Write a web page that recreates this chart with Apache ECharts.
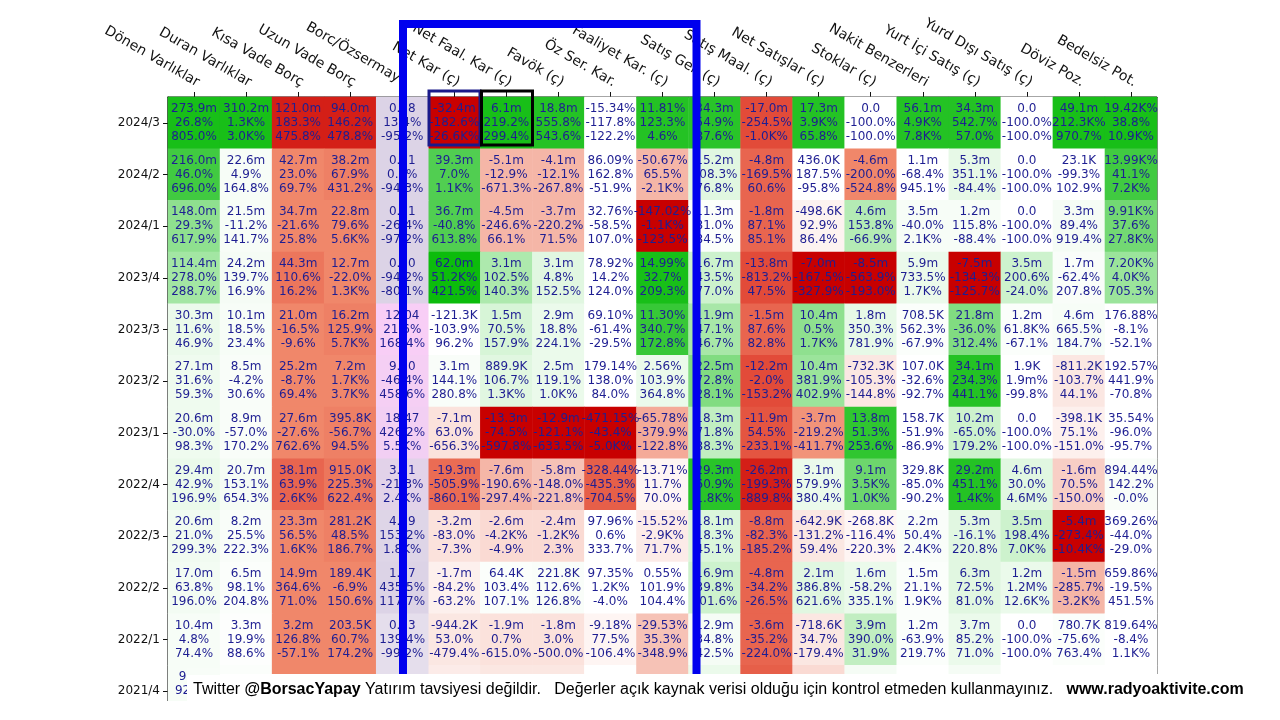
<!DOCTYPE html>
<html><head><meta charset="utf-8">
<script src="https://cdn.jsdelivr.net/npm/echarts@6/dist/echarts.min.js"></script>
<style>html,body{margin:0;padding:0;background:#fff}#c{width:1280px;height:720px}</style>
</head><body><div id="c"></div>
<script>
const periods = ['2024/3','2024/2','2024/1','2023/4','2023/3','2023/2','2023/1','2022/4','2022/3','2022/2','2022/1','2021/4'];
const metrics = ['Dönen Varlıklar','Duran Varlıklar','Kısa Vade Borç','Uzun Vade Borç','Borc/Özsermaye','Net Kar (ç)','Net Faal. Kar (ç)','Favök (ç)','Öz Ser. Kar.','Faaliyet Kar. (ç)','Satış Gel. (ç)','Satış Maal. (ç)','Net Satışlar (ç)','Stoklar (ç)','Nakit Benzerleri','Yurt İçi Satış (ç)','Yurd Dışı Satış (ç)','Döviz Poz.','Bedelsiz Pot.'];

// first line of each cell: value
const line1 = [
 ['273.9m','310.2m','121.0m','94.0m','0.28','-32.4m','6.1m','18.8m','-15.34%','11.81%','34.3m','-17.0m','17.3m','0.0','56.1m','34.3m','0.0','49.1m','19.42K%'],
 ['216.0m','22.6m','42.7m','38.2m','0.31','39.3m','-5.1m','-4.1m','86.09%','-50.67%','15.2m','-4.8m','436.0K','-4.6m','1.1m','5.3m','0.0','23.1K','13.99K%'],
 ['148.0m','21.5m','34.7m','22.8m','0.21','36.7m','-4.5m','-3.7m','32.76%','-147.02%','11.3m','-1.8m','-498.6K','4.6m','3.5m','1.2m','0.0','3.3m','9.91K%'],
 ['114.4m','24.2m','44.3m','12.7m','0.30','62.0m','3.1m','3.1m','78.92%','14.99%','16.7m','-13.8m','-7.0m','-8.5m','5.9m','-7.5m','3.5m','1.7m','7.20K%'],
 ['30.3m','10.1m','21.0m','16.2m','12.04','-121.3K','1.5m','2.9m','69.10%','11.30%','11.9m','-1.5m','10.4m','1.8m','708.5K','21.8m','1.2m','4.6m','176.88%'],
 ['27.1m','8.5m','25.2m','7.2m','9.50','3.1m','889.9K','2.5m','179.14%','2.56%','22.5m','-12.2m','10.4m','-732.3K','107.0K','34.1m','1.9K','-811.2K','192.57%'],
 ['20.6m','8.9m','27.6m','395.8K','18.47','-7.1m','-13.3m','-12.9m','-471.15%','-65.78%','18.3m','-11.9m','-3.7m','13.8m','158.7K','10.2m','0.0','-398.1K','35.54%'],
 ['29.4m','20.7m','38.1m','915.0K','3.21','-19.3m','-7.6m','-5.8m','-328.44%','-13.71%','29.3m','-26.2m','3.1m','9.1m','329.8K','29.2m','4.6m','-1.6m','894.44%'],
 ['20.6m','8.2m','23.3m','281.2K','4.19','-3.2m','-2.6m','-2.4m','97.96%','-15.52%','18.1m','-8.8m','-642.9K','-268.8K','2.2m','5.3m','3.5m','-5.4m','369.26%'],
 ['17.0m','6.5m','14.9m','189.4K','1.27','-1.7m','64.4K','221.8K','97.35%','0.55%','16.9m','-4.8m','2.1m','1.6m','1.5m','6.3m','1.2m','-1.5m','659.86%'],
 ['10.4m','3.3m','3.2m','203.5K','0.33','-944.2K','-1.9m','-1.8m','-9.18%','-29.53%','12.9m','-3.6m','-718.6K','3.9m','1.2m','3.7m','0.0','780.7K','819.64%'],
 ['9.6m','','','','','','','','','','','','','','','','','','']
];
// second line: quarterly change
const line2 = [
 ['26.8%','1.3K%','183.3%','146.2%','13.4%','-182.6%','219.2%','555.8%','-117.8%','123.3%','54.9%','-254.5%','3.9K%','-100.0%','4.9K%','542.7%','-100.0%','212.3K%','38.8%'],
 ['46.0%','4.9%','23.0%','67.9%','0.7%','7.0%','-12.9%','-12.1%','162.8%','65.5%','108.3%','-169.5%','187.5%','-200.0%','-68.4%','351.1%','-100.0%','-99.3%','41.1%'],
 ['29.3%','-11.2%','-21.6%','79.6%','-26.4%','-40.8%','-246.6%','-220.2%','-58.5%','-1.1K%','81.0%','87.1%','92.9%','153.8%','-40.0%','115.8%','-100.0%','89.4%','37.6%'],
 ['278.0%','139.7%','110.6%','-22.0%','-94.2%','51.2K%','102.5%','4.8%','14.2%','32.7%','43.5%','-813.2%','-167.5%','-563.9%','733.5%','-134.3%','200.6%','-62.4%','4.0K%'],
 ['11.6%','18.5%','-16.5%','125.9%','21.6%','-103.9%','70.5%','18.8%','-61.4%','340.7%','47.1%','87.6%','0.5%','350.3%','562.3%','-36.0%','61.8K%','665.5%','-8.1%'],
 ['31.6%','-4.2%','-8.7%','1.7K%','-46.4%','144.1%','106.7%','119.1%','138.0%','103.9%','72.8%','-2.0%','381.9%','-105.3%','-32.6%','234.3%','1.9m%','-103.7%','441.9%'],
 ['-30.0%','-57.0%','-27.6%','-56.7%','426.2%','63.0%','-74.5%','-121.1%','-43.4%','-379.9%','71.8%','54.5%','-219.2%','51.3%','-51.9%','-65.0%','-100.0%','75.1%','-96.0%'],
 ['42.9%','153.1%','63.9%','225.3%','-21.3%','-505.9%','-190.6%','-148.0%','-435.3%','11.7%','60.9%','-199.3%','579.9%','3.5K%','-85.0%','451.1%','30.0%','70.5%','142.2%'],
 ['21.0%','25.5%','56.5%','48.5%','153.2%','-83.0%','-4.2K%','-1.2K%','0.6%','-2.9K%','18.3%','-82.3%','-131.2%','-116.4%','50.4%','-16.1%','198.4%','-273.4%','-44.0%'],
 ['63.8%','98.1%','364.6%','-6.9%','435.5%','-84.2%','103.4%','112.6%','1.2K%','101.9%','39.8%','-34.2%','386.8%','-58.2%','21.1%','72.5%','1.2M%','-285.7%','-19.5%'],
 ['4.8%','19.9%','126.8%','60.7%','139.4%','53.0%','0.7%','3.0%','77.5%','35.3%','34.8%','-35.2%','34.7%','390.0%','-63.9%','85.2%','-100.0%','-75.6%','-8.4%'],
 ['92.4%','','','','','','','','','','','','','','','','','','']
];
// third line: yearly change
const line3 = [
 ['805.0%','3.0K%','475.8%','478.8%','-95.2%','-26.6K%','299.4%','543.6%','-122.2%','4.6%','87.6%','-1.0K%','65.8%','-100.0%','7.8K%','57.0%','-100.0%','970.7%','10.9K%'],
 ['696.0%','164.8%','69.7%','431.2%','-94.3%','1.1K%','-671.3%','-267.8%','-51.9%','-2.1K%','76.8%','60.6%','-95.8%','-524.8%','945.1%','-84.4%','-100.0%','102.9%','7.2K%'],
 ['617.9%','141.7%','25.8%','5.6K%','-97.2%','613.8%','66.1%','71.5%','107.0%','-123.5%','84.5%','85.1%','86.4%','-66.9%','2.1K%','-88.4%','-100.0%','919.4%','27.8K%'],
 ['288.7%','16.9%','16.2%','1.3K%','-80.1%','421.5%','140.3%','152.5%','124.0%','209.3%','77.0%','47.5%','-327.9%','-193.0%','1.7K%','-125.7%','-24.0%','207.8%','705.3%'],
 ['46.9%','23.4%','-9.6%','5.7K%','168.4%','96.2%','157.9%','224.1%','-29.5%','172.8%','46.7%','82.8%','1.7K%','781.9%','-67.9%','312.4%','-67.1%','184.7%','-52.1%'],
 ['59.3%','30.6%','69.4%','3.7K%','458.6%','280.8%','1.3K%','1.0K%','84.0%','364.8%','28.1%','-153.2%','402.9%','-144.8%','-92.7%','441.1%','-99.8%','44.1%','-70.8%'],
 ['98.3%','170.2%','762.6%','94.5%','5.5K%','-656.3%','-597.8%','-633.5%','-5.0K%','-122.8%','88.3%','-233.1%','-411.7%','253.6%','-86.9%','179.2%','-100.0%','-151.0%','-95.7%'],
 ['196.9%','654.3%','2.6K%','622.4%','2.4K%','-860.1%','-297.4%','-221.8%','-704.5%','70.0%','1.8K%','-889.8%','380.4%','1.0K%','-90.2%','1.4K%','4.6M%','-150.0%','-0.0%'],
 ['299.3%','222.3%','1.6K%','186.7%','1.8K%','-7.3%','-4.9%','2.3%','333.7%','71.7%','45.1%','-185.2%','59.4%','-220.3%','2.4K%','220.8%','7.0K%','-10.4K%','-29.0%'],
 ['196.0%','204.8%','71.0%','150.6%','117.7%','-63.2%','107.1%','126.8%','-4.0%','104.4%','101.6%','-26.5%','621.6%','335.1%','1.9K%','81.0%','12.6K%','-3.2K%','451.5%'],
 ['74.4%','88.6%','-57.1%','174.2%','-99.2%','-479.4%','-615.0%','-500.0%','-106.4%','-348.9%','42.5%','-224.0%','-179.4%','31.9%','219.7%','71.0%','-100.0%','763.4%','1.1K%'],
 [' ','','','','','','','','','','','','','','','','','','']
];
// colour level of each cell (-1 red .. 0 white .. 1 green; column 5 uses its own lavender-pink scale 0..1)
const heat = [
 [0.95,0.95,-0.85,-0.85,0.5,-1,0.95,0.9,0,0.9,0.88,-0.68,0.9,0,0.9,0.9,0,0.95,0.95],
 [0.78,0.04,-0.5,-0.52,0.5,0.72,-0.3,-0.3,0,-0.3,0.15,-0.6,0,-0.5,0,0.12,0,0,0.78],
 [0.5,0.04,-0.5,-0.5,0.5,0.72,-0.3,-0.3,0,-1,0.02,-0.6,-0.05,0.35,0.04,0.04,0,0.05,0.6],
 [0.42,0.05,-0.55,-0.5,0.5,1,0.38,0.15,0,0.95,0.25,-0.68,-1,-1,0.1,-1,0.25,0.03,0.45],
 [0.1,0.04,-0.5,-0.52,1,0,0.2,0.1,0,0.82,0.4,-0.6,0.5,0.12,0.02,0.55,0.02,0.04,0],
 [0.08,0.03,-0.5,-0.5,0.95,0.03,0.15,0.1,0,0.1,0.55,-0.68,0.45,-0.1,0,0.9,0,-0.1,0],
 [0.08,0.03,-0.5,-0.52,0.9,-0.12,-1,-1,-1,-0.35,0.3,-0.65,-0.45,0.85,0,0.25,0,-0.06,0],
 [0.1,0.05,-0.6,-0.55,0.6,-0.58,-0.3,-0.25,-0.62,-0.04,0.88,-0.85,0.1,0.62,0,0.9,0.15,-0.2,0.03],
 [0.07,0.03,-0.5,-0.52,0.45,-0.12,-0.15,-0.15,0,-0.08,0.18,-0.6,-0.1,-0.04,0.03,0.15,0.25,-1,0],
 [0.06,0.02,-0.5,-0.5,0.5,-0.06,0.02,0.03,0,0,0.25,-0.6,0.15,0.1,0.02,0.15,0.1,-0.3,0],
 [0.04,0.01,-0.5,-0.5,0.2,-0.1,-0.12,-0.12,-0.04,-0.25,0.05,-0.6,-0.1,0.3,0.02,0.1,0,0.02,0],
 [0.04,0.02,-0.5,-0.5,0.2,-0.08,-0.1,-0.1,0,-0.25,0.1,-0.62,-0.15,0.05,0,0.05,0,0,0]
];
const ratioCol = 4;

const mainData = [], ratioData = [];
periods.forEach((p, r) => {
  metrics.forEach((m, c) => {
    const item = [c, r, heat[r][c]];
    (c === ratioCol ? ratioData : mainData).push(item);
  });
});

function cellText(p) {
  const c = p.value[0], r = p.value[1];
  const a = line1[r][c], b = line2[r][c], d = line3[r][c];
  if (!a && !b && !d) return '';
  return a + '\n' + b + '\n' + d;
}

const labelStyle = {
  show: true, formatter: cellText, fontFamily: 'DejaVu Sans', fontSize: 12,
  lineHeight: 14, color: '#1e1e92'
};

const chart = echarts.init(document.getElementById('c'), null, {renderer: 'canvas'});
chart.setOption({
  animation: false,
  backgroundColor: '#ffffff',
  grid: {left: 168, top: 97, width: 989, height: 620, show: true, borderColor: '#111', borderWidth: 1, backgroundColor: 'transparent'},
  xAxis: {
    type: 'category', data: metrics, position: 'top',
    axisLine: {show: true, lineStyle: {color: '#111', width: 1}},
    axisTick: {show: true, alignWithLabel: true, length: 5, lineStyle: {color: '#111'}},
    axisLabel: {interval: 0, rotate: 30, margin: 16, padding: [0, -5, 0, 0], fontFamily: 'DejaVu Sans', fontSize: 14, color: '#111'},
    splitLine: {show: false}
  },
  yAxis: {
    type: 'category', data: periods, inverse: true,
    axisLine: {show: true, lineStyle: {color: '#444', width: 1.5}},
    axisTick: {show: true, alignWithLabel: true, length: 5, lineStyle: {color: '#111'}},
    axisLabel: {interval: 0, margin: 8, fontFamily: 'DejaVu Sans', fontSize: 12, color: '#111'},
    splitLine: {show: false}
  },
  visualMap: [
    {type: 'continuous', show: false, seriesIndex: 0, dimension: 2, min: -1, max: 1,
     inRange: {color: ['#c80000','#dc3326','#f0876a','#f6c2b6','#ffffff','#cdf2cd','#8fe08f','#48cc48','#0cbc0c']}},
    {type: 'continuous', show: false, seriesIndex: 1, dimension: 2, min: 0, max: 1,
     inRange: {color: ['#ebe5f0','#dcd3e6','#f8cef6']}}
  ],
  series: [
    {type: 'heatmap', z: 1, data: mainData, label: labelStyle, itemStyle: {borderWidth: 0}, emphasis: {disabled: true}},
    {type: 'heatmap', z: 1, data: ratioData, label: labelStyle, itemStyle: {borderWidth: 0}, emphasis: {disabled: true}}
  ],
  graphic: [
    {type: 'rect', zlevel: 1, z: 100, shape: {x: 403, y: 24, width: 293.5, height: 690}, style: {fill: 'none', stroke: '#0000ee', lineWidth: 8}},
    {type: 'rect', zlevel: 1, z: 100, shape: {x: 429, y: 91, width: 51, height: 54}, style: {fill: 'none', stroke: '#1a1a8a', lineWidth: 3}},
    {type: 'rect', zlevel: 1, z: 100, shape: {x: 481.5, y: 91, width: 51, height: 54}, style: {fill: 'none', stroke: '#000', lineWidth: 3}},
    {type: 'rect', zlevel: 1, z: 110, shape: {x: 0, y: 701, width: 1280, height: 19}, style: {fill: '#ffffff'}},
    {type: 'rect', zlevel: 1, z: 110, shape: {x: 187, y: 674, width: 1093, height: 46}, style: {fill: '#ffffff'}},
    {type: 'rect', zlevel: 1, z: 110, shape: {x: 187, y: 668, width: 33, height: 7}, style: {fill: '#f8fdf8'}},
    {type: 'text', zlevel: 1, z: 120, x: 193, y: 690, style: {
      text: '{n|Twitter }{b|@BorsacYapay}{n| Yatırım tavsiyesi değildir.   Değerler açık kaynak verisi olduğu için kontrol etmeden kullanmayınız.   }{b|www.radyoaktivite.com}',
      verticalAlign: 'middle', align: 'left',
      rich: {
        n: {fontFamily: 'Liberation Sans', fontSize: 16, fill: '#000'},
        b: {fontFamily: 'Liberation Sans', fontSize: 16, fontWeight: 'bold', fill: '#000'}
      }
    }}
  ]
});
</script>
</body></html>
